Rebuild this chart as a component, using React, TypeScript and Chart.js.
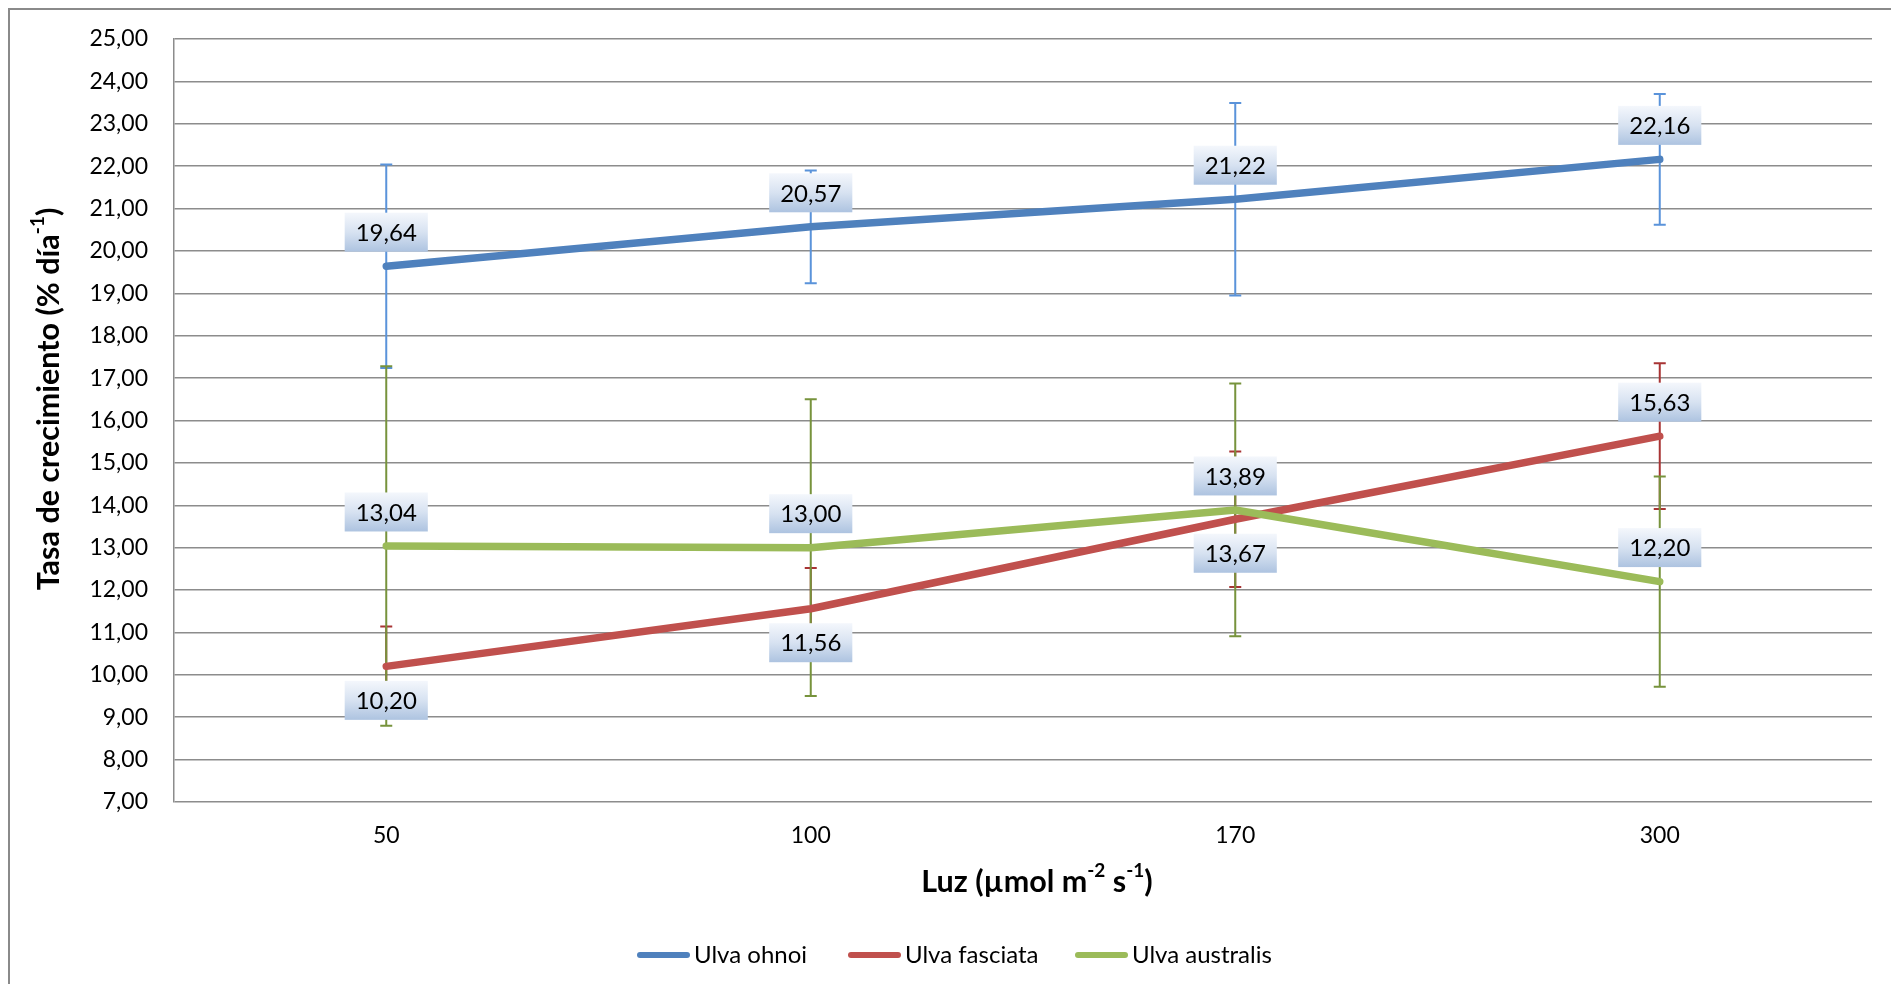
import React, { useEffect, useRef } from "react";
import { Chart, registerables } from "chart.js";

Chart.register(...registerables);

// ---- data ----
const categories = ["50", "100", "170", "300"];
const seriesNames = ["Ulva ohnoi", "Ulva fasciata", "Ulva australis"];
const ohnoi = [19.64, 20.57, 21.22, 22.16];
const fasciata = [10.2, 11.56, 13.67, 15.63];
const australis = [13.04, 13.0, 13.89, 12.2];
const ohnoiErr = [2.4, 1.33, 2.27, 1.54];
const fasciataErr = [0.94, 0.96, 1.6, 1.72];
const australisErr = [4.24, 3.5, 2.98, 2.48];
// 1 = label above point, -1 = below
const ohnoiLabelSide = [1, 1, 1, 1];
const fasciataLabelSide = [-1, -1, -1, 1];
const australisLabelSide = [1, 1, 1, 1];
const yMin = 7;
const yMax = 25;
const yStep = 1;

const lineColors = ["#4f81bd", "#c0504d", "#9bbb59"];
const errColors = ["#5a93da", "#a83434", "#77933c"];
const FONT = "Lato, 'Open Sans', sans-serif";

const allErr = [ohnoiErr, fasciataErr, australisErr];
const allSide = [ohnoiLabelSide, fasciataLabelSide, australisLabelSide];

const fmt = (v: number) => v.toFixed(2).replace(".", ",");

function drawSupText(
  ctx: CanvasRenderingContext2D,
  parts: { t: string; sup?: boolean }[],
  size: number,
  cx: number,
  cy: number,
  rotate: boolean
) {
  const mainFont = `bold ${size}px ${FONT}`;
  const supFont = `bold ${Math.round(size * 0.62)}px ${FONT}`;
  let total = 0;
  const widths = parts.map((p) => {
    ctx.font = p.sup ? supFont : mainFont;
    const w = ctx.measureText(p.t).width;
    total += w;
    return w;
  });
  ctx.save();
  ctx.translate(cx, cy);
  if (rotate) ctx.rotate(-Math.PI / 2);
  ctx.fillStyle = "#000";
  ctx.textBaseline = "middle";
  ctx.textAlign = "left";
  let x = -total / 2;
  parts.forEach((p, i) => {
    ctx.font = p.sup ? supFont : mainFont;
    ctx.fillText(p.t, x, p.sup ? -size * 0.36 : 0);
    x += widths[i];
  });
  ctx.restore();
}

const overlayPlugin = {
  id: "overlay",
  beforeDatasetsDraw(chart: any) {
    const ctx = chart.ctx as CanvasRenderingContext2D;
    const xs = chart.scales.x;
    const ys = chart.scales.y;
    chart.data.datasets.forEach((ds: any, di: number) => {
      const errs = allErr[di];
      ctx.save();
      ctx.strokeStyle = errColors[di];
      ctx.lineWidth = 2;
      (ds.data as number[]).forEach((v, i) => {
        const px = xs.getPixelForValue(i);
        const top = ys.getPixelForValue(v + errs[i]);
        const bot = ys.getPixelForValue(v - errs[i]);
        ctx.beginPath();
        ctx.moveTo(px, top);
        ctx.lineTo(px, bot);
        ctx.moveTo(px - 6, top);
        ctx.lineTo(px + 6, top);
        ctx.moveTo(px - 6, bot);
        ctx.lineTo(px + 6, bot);
        ctx.stroke();
      });
      ctx.restore();
    });
  },
  afterDatasetsDraw(chart: any) {
    const ctx = chart.ctx as CanvasRenderingContext2D;
    const xs = chart.scales.x;
    const ys = chart.scales.y;
    ctx.save();
    ctx.font = `24px ${FONT}`;
    ctx.textAlign = "center";
    ctx.textBaseline = "middle";
    chart.data.datasets.forEach((ds: any, di: number) => {
      (ds.data as number[]).forEach((v, i) => {
        const px = xs.getPixelForValue(i);
        const py = ys.getPixelForValue(v);
        const cy = py - allSide[di][i] * 34;
        const txt = fmt(v);
        const w = ctx.measureText(txt).width + 22;
        const h = 39;
        const g = ctx.createLinearGradient(0, cy - h / 2, 0, cy + h / 2);
        g.addColorStop(0, "#f4f7fc");
        g.addColorStop(0.5, "#d7e2f1");
        g.addColorStop(1, "#adc3e0");
        ctx.fillStyle = g;
        ctx.fillRect(px - w / 2, cy - h / 2, w, h);
        ctx.fillStyle = "#000";
        ctx.fillText(txt, px, cy + 1);
      });
    });
    ctx.restore();
  },
  afterDraw(chart: any) {
    const ctx = chart.ctx as CanvasRenderingContext2D;
    // Y axis title
    drawSupText(
      ctx,
      [{ t: "Tasa de crecimiento (% día" }, { t: "-1", sup: true }, { t: ")" }],
      30.5,
      39,
      389,
      true
    );
    // X axis title
    drawSupText(
      ctx,
      [
        { t: "Luz (µmol m" },
        { t: "-2", sup: true },
        { t: " s" },
        { t: "-1", sup: true },
        { t: ")" },
      ],
      30.5,
      1027,
      872,
      false
    );
    // Legend
    const starts = [627, 838, 1065];
    const ly = 945;
    ctx.save();
    ctx.font = `24px ${FONT}`;
    ctx.textBaseline = "middle";
    ctx.textAlign = "left";
    seriesNames.forEach((name, i) => {
      ctx.strokeStyle = lineColors[i];
      ctx.lineWidth = 6;
      ctx.lineCap = "round";
      ctx.beginPath();
      ctx.moveTo(starts[i] + 3, ly);
      ctx.lineTo(starts[i] + 50, ly);
      ctx.stroke();
      ctx.fillStyle = "#000";
      ctx.fillText(name, starts[i] + 57, ly);
    });
    ctx.restore();
  },
};

export default function App() {
  const ref = useRef<HTMLCanvasElement | null>(null);

  useEffect(() => {
    if (!ref.current) return;
    const series = [ohnoi, fasciata, australis];
    const chart = new Chart(ref.current, {
      type: "line",
      data: {
        labels: categories,
        datasets: series.map((d, i) => ({
          label: seriesNames[i],
          data: d,
          borderColor: lineColors[i],
          backgroundColor: lineColors[i],
          borderWidth: 7.5,
          borderCapStyle: "round",
          borderJoinStyle: "round",
          pointRadius: 0,
          pointHoverRadius: 0,
          tension: 0,
          fill: false,
          order: 3 - i,
        })),
      },
      options: {
        animation: false,
        responsive: false,
        devicePixelRatio: 1,
        layout: { padding: { top: 29, right: 19, left: 0, bottom: 0 } },
        plugins: {
          legend: { display: false },
          tooltip: { enabled: false },
          title: { display: false },
        },
        scales: {
          x: {
            type: "category",
            offset: true,
            grid: { display: false, drawTicks: false },
            border: { display: false },
            ticks: {
              color: "#000",
              font: { family: FONT, size: 23 },
              padding: 20,
              maxRotation: 0,
            },
            afterFit: (s: any) => {
              s.height = 182;
            },
          },
          y: {
            min: yMin,
            max: yMax,
            grid: {
              color: "#8c8c8c",
              lineWidth: 1.5,
              drawTicks: true,
              tickLength: 26,
              tickColor: "rgba(0,0,0,0)",
            },
            border: { display: true, color: "#8c8c8c", width: 1.5 },
            ticks: {
              stepSize: yStep,
              color: "#000",
              font: { family: FONT, size: 23 },
              padding: 0,
              callback: (v: any) => fmt(Number(v)),
            },
            afterFit: (s: any) => {
              s.width = 164;
            },
          },
        },
      },
      plugins: [overlayPlugin],
    } as any);
    return () => chart.destroy();
  }, []);

  return (
    <div
      style={{
        width: 1883,
        height: 976,
        boxSizing: "border-box",
        borderLeft: "2px solid #8a8a8a",
        borderTop: "2px solid #8a8a8a",
        background: "#fff",
        overflow: "hidden",
      }}
    >
      <canvas
        ref={ref}
        width={1881}
        height={974}
        style={{ display: "block", width: 1881, height: 974 }}
      />
    </div>
  );
}
